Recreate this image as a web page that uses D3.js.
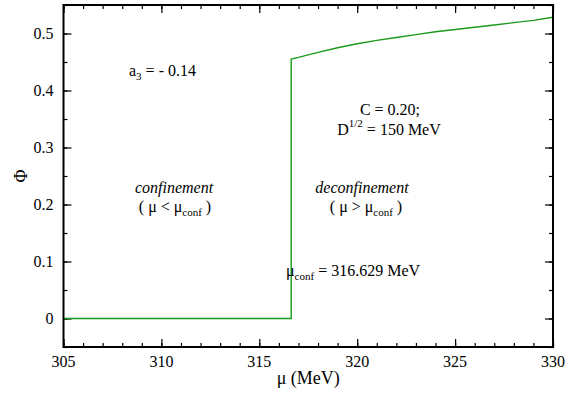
<!DOCTYPE html>
<html>
<head>
<meta charset="utf-8">
<script src="https://cdn.jsdelivr.net/npm/d3@7"></script>
</head>
<body style="margin:0">
<script>
// data
const mu  = [305, 316.629, 316.629, 317.0, 318, 319, 320, 321, 322, 323, 324, 325, 326, 327, 328, 329, 330];
const phi = [0,   0,       0.455,   0.458, 0.467, 0.475, 0.482, 0.488, 0.493, 0.498, 0.503, 0.507, 0.511, 0.515, 0.519, 0.523, 0.5285];

const xTicks = [305, 310, 315, 320, 325, 330];
const yTicks = [0, 0.1, 0.2, 0.3, 0.4, 0.5];
const xMinor = d3.range(305, 331, 1);
const yMinor = [-0.05, 0, 0.05, 0.1, 0.15, 0.2, 0.25, 0.3, 0.35, 0.4, 0.45, 0.5, 0.55];

const width = 582, height = 393;
const margin = { top: 5, right: 29, bottom: 46, left: 63.5 };
const w = width - margin.left - margin.right;
const h = height - margin.top - margin.bottom;

const svg = d3.select('body').append('svg')
  .attr('width', width).attr('height', height);
const g = svg.append('g').attr('transform', `translate(${margin.left},${margin.top})`);

const x = d3.scaleLinear().domain([305, 330]).range([0, w]);
const y = d3.scaleLinear().domain([-0.05, 0.55]).range([h, 0]);

// serif text helper
function txt(parent, size) {
  return parent.append('text')
    .attr('font-size', size)
    .style('font-family', '"Liberation Serif"');
}

// ===== ticks (inward, all four sides) =====
function ticks(axis, vals, size, transform) {
  const a = g.append('g').attr('transform', transform)
    .call(axis.tickValues(vals).tickSize(size).tickFormat(''));
  a.select('.domain').remove();
  a.selectAll('line').attr('stroke', '#000').attr('stroke-width', 1.2);
}
ticks(d3.axisBottom(x), xMinor, -4, `translate(0,${h})`);
ticks(d3.axisBottom(x), xTicks, -8, `translate(0,${h})`);
ticks(d3.axisTop(x), xMinor, -4, 'translate(0,0)');
ticks(d3.axisTop(x), xTicks, -8, 'translate(0,0)');
ticks(d3.axisLeft(y), yMinor, -4, 'translate(0,0)');
ticks(d3.axisLeft(y), yTicks, -8, 'translate(0,0)');
ticks(d3.axisRight(y), yMinor, -4, `translate(${w},0)`);
ticks(d3.axisRight(y), yTicks, -8, `translate(${w},0)`);

// tick labels
xTicks.forEach(d => {
  txt(g, 16).attr('x', x(d)).attr('y', h + 20).attr('text-anchor', 'middle').text(d);
});
yTicks.forEach(d => {
  txt(g, 16).attr('x', -10).attr('y', y(d) + 5.5).attr('text-anchor', 'end')
    .text(d === 0 ? '0' : d.toFixed(1));
});

// ===== curve =====
const line = d3.line().x((d, i) => x(mu[i])).y((d, i) => y(phi[i]));
g.append('path')
  .datum(mu)
  .attr('d', line)
  .attr('fill', 'none')
  .attr('stroke', '#1a9a1a')
  .attr('stroke-width', 1.4);

// frame
g.append('rect').attr('width', w).attr('height', h)
  .attr('fill', 'none').attr('stroke', '#000').attr('stroke-width', 2);

// axis titles
txt(svg, 18).attr('x', margin.left + w / 2).attr('y', 384)
  .attr('text-anchor', 'middle').text('μ (MeV)');
txt(svg, 18).attr('transform', 'translate(27,176) rotate(-90)')
  .attr('text-anchor', 'middle').text('Φ');

// ===== annotations =====
function sub(t, s, dy) {
  t.append('tspan').attr('font-size', 11).attr('dy', dy).text(s);
}
let t = txt(svg, 16).attr('x', 129).attr('y', 76);
t.append('tspan').text('a');
sub(t, '3', 4);
t.append('tspan').attr('dy', -4).text(' = - 0.14');

txt(svg, 16).attr('x', 390).attr('y', 115).attr('text-anchor', 'middle').text('C = 0.20;');
t = txt(svg, 16).attr('x', 389).attr('y', 135).attr('text-anchor', 'middle');
t.append('tspan').text('D');
sub(t, '1/2', -8);
t.append('tspan').attr('dy', 8).text(' = 150 MeV');

txt(svg, 16).attr('x', 174).attr('y', 193).attr('text-anchor', 'middle')
  .attr('font-style', 'italic').text('confinement');
t = txt(svg, 16).attr('x', 175).attr('y', 212).attr('text-anchor', 'middle');
t.append('tspan').text('( μ <  μ');
sub(t, 'conf', 4);
t.append('tspan').attr('dy', -4).text(' )');

txt(svg, 16).attr('x', 362).attr('y', 193).attr('text-anchor', 'middle')
  .attr('font-style', 'italic').text('deconfinement');
t = txt(svg, 16).attr('x', 366).attr('y', 212).attr('text-anchor', 'middle');
t.append('tspan').text('( μ >  μ');
sub(t, 'conf', 4);
t.append('tspan').attr('dy', -4).text(' )');

t = txt(svg, 16).attr('x', 286).attr('y', 276);
t.append('tspan').text('μ');
sub(t, 'conf', 4);
t.append('tspan').attr('dy', -4).text(' = 316.629 MeV');
</script>
</body>
</html>
